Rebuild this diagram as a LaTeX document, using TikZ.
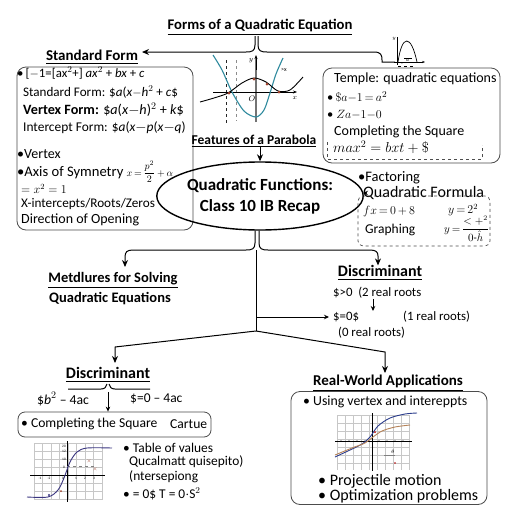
\documentclass[tikz,border=0pt]{standalone}
\usepackage{amsmath}
\usepackage{fontspec}
\setmainfont{Carlito}
\usetikzlibrary{arrows.meta,shapes.geometric,calc}
\definecolor{tealc}{HTML}{2F8A9E}
\definecolor{navyc}{HTML}{3A3580}
\definecolor{bluec}{HTML}{2B3C8C}
\definecolor{brownc}{HTML}{B5835A}
\definecolor{dotc}{HTML}{A0402A}
\begin{document}
\begin{tikzpicture}[x=1pt,y=-1pt,
  txt/.style={anchor=west,inner sep=0pt,font=\fontsize{14}{16}\selectfont},
  ltxt/.style={anchor=west,inner sep=0pt,font=\fontsize{13.4}{15}\selectfont},
  stxt/.style={anchor=west,inner sep=0pt,font=\fontsize{12.8}{15}\selectfont},
  btxt/.style={anchor=west,inner sep=0pt,font=\fontsize{15}{17}\selectfont},
  hd/.style={inner sep=0pt,font=\fontsize{14.7}{17}\selectfont\bfseries},
  rbox/.style={draw=black!70,line width=0.8pt,rounded corners=9pt},
  dbox/.style={draw=black!70,line width=0.7pt,dashed,rounded corners=5pt},
  link/.style={line width=1pt,black},
  arr/.style={link,-{Stealth[length=7pt,width=6pt]}},
  sarr/.style={link,-{Stealth[length=5pt,width=4.5pt]}},
  gridl/.style={black!22,line width=0.4pt},
  axis/.style={black,line width=0.8pt},
  tick/.style={inner sep=0pt,font=\fontsize{3.5}{4}\selectfont}]
\useasboundingbox (0,0) rectangle (512,512);
\fill[white] (0,0) rectangle (512,512);

% ---------- title and top brace ----------
\node[hd] (title) at (260,27) {\underline{Forms of a Quadratic Equation}};
\node[hd,font=\fontsize{15}{17}\selectfont\bfseries] (std) at (92,57) {\underline{Standard Form}};
\coordinate (stdtip) at (142,52);
\coordinate (bl) at (255,36);
\coordinate (br) at (258,36);
\coordinate (tg) at (395,62);
\draw[arr] (bl) -- (255,45) .. controls (255,51) and (252,52) .. (246,52) -- (stdtip);
\draw[link] (br) -- (258,45) .. controls (258,51) and (261,52) .. (267,52) -- (374,52)
   .. controls (381,52) and (382,55) .. (382,60) -- (382,62) -- (tg);

% small graph top right
\draw[line width=0.6pt] (397,37) -- (397,65);
\draw[line width=0.6pt,-{Stealth[length=3pt]}] (394,62) -- (425,62);
\draw[line width=0.7pt] (398,62) .. controls (402,34) and (411,34) .. (417,62);
\draw[line width=0.4pt,dashed] (398,66) -- (414,66);
\draw[line width=0.4pt] (404,58) -- (412,58);
\node[tick] (tgy) at (394,39) {$y$};
\node[tick] (tgt) at (406,63) {\_~~$\frac{a}{}$};

% ---------- center plot ----------
\draw[dashed,black!85,line width=0.6pt] (226,60) -- (226,124);
\draw[dashed,black!45,line width=0.6pt] (236,60) -- (236,121);
\draw[black!55,line width=1.2pt] (256,122) -- (256,58);
\draw[axis,-{Stealth[length=4pt,width=3pt]}] (256,70) -- (256,55);
\draw[axis,-{Stealth[length=4pt,width=3pt]}] (213,92) -- (297,92);
\draw[tealc,line width=1.1pt] plot[smooth] coordinates {(213,55) (222,70) (232,92) (244,111) (256,117) (264,110) (270,93) (276,74) (283,58)};
\draw[black,line width=0.9pt] plot[smooth] coordinates {(200,102) (214,98) (228,93) (242,83) (254,78) (266,82) (278,91) (290,90) (303,77)};
\foreach \p in {(229,93),(254,79),(267,84),(279,92)} \fill[dotc] \p circle (1.5);
\node[inner sep=0pt,font=\fontsize{7}{8}\selectfont] (ly) at (251,61) {$y$};
\node[inner sep=0pt,font=\fontsize{8}{9}\selectfont] (lo) at (252,99) {$O$};
\node[inner sep=0pt,font=\fontsize{7}{8}\selectfont] (lx) at (295,98) {$x$};
\node[inner sep=0pt,font=\fontsize{6}{7}\selectfont] (lx2) at (284,70) {>x};

% ---------- left box ----------
\node[rbox,minimum width=176pt,minimum height=163pt] (lbox) at (105,148.5) {};
\node[ltxt,font=\fontsize{12.8}{15}\selectfont] (l1) at (17,73) {\textbullet\,[$-$1=[ax$^2$+] \textit{ax}$^2$ + \textit{bx} + \textit{c}};
\node[ltxt,font=\fontsize{13.1}{15}\selectfont] (l2) at (23,92) {Standard Form: \$\textit{a}(\textit{x}$-$\textit{h}$^2$ + \textit{c}\$};
\node[ltxt,font=\fontsize{14.2}{16}\selectfont] (l3) at (23,110) {\textbf{Vertex Form:} \$\textit{a}(\textit{x}$-$\textit{h})$^2$ + \textit{k}\$};
\node[ltxt] (l4) at (23,128) {Intercept Form: \$\textit{a}(\textit{x}$-$\textit{p}(\textit{x}$-$\textit{q})};
\node[ltxt,font=\fontsize{14}{16}\selectfont] (l5) at (17,154) {\textbullet Vertex};
\node[ltxt,font=\fontsize{14.6}{17}\selectfont] (l6) at (17,172) {\textbullet Axis of Symnetry\ {\fontsize{10}{12}\selectfont$x\,{=}\,\dfrac{p^2}{2}\,{+}\,\alpha$}};
\node[ltxt,font=\fontsize{11.5}{13}\selectfont] (l7) at (21,189) {$=x^2=1$};
\node[ltxt,font=\fontsize{13.2}{15}\selectfont] (l8) at (21,204) {X-intercepts/Roots/Zeros};
\node[ltxt,font=\fontsize{14}{16}\selectfont] (l9) at (21,220) {Direction of Opening};

% ---------- right top box ----------
\node[rbox,minimum width=177pt,minimum height=95pt] (rbox) at (411.5,115.5) {};
\node[txt] (r1) at (334,79) {Temple: quadratic equations};
\node[txt,font=\fontsize{12.5}{14}\selectfont] (r2) at (327,97) {\textbullet\,$\mathit{\$}a{-}1{\,=\,}a^2$};
\node[txt,font=\fontsize{12.5}{14}\selectfont] (r3) at (327,115) {\textbullet\ $Za{-}1{-}0$};
\node[txt] (r4) at (334,132) {Completing the Square};
\node[txt] (r5) at (333,147) {$max^2=bxt+\$$};
\draw[dashed,black!70,line width=0.6pt] (327,142) -- (327,159) -- (482,159) -- (482,145);

% ---------- features and main ellipse ----------
\node[inner sep=0pt,font=\fontsize{13.5}{15}\selectfont\bfseries] (feat) at (254,141) {\underline{Features of a Parabola}};
\node[ellipse,draw,line width=1.4pt,minimum width=160pt,minimum height=68pt,inner sep=0pt,
      align=center,font=\fontsize{17}{21}\selectfont\bfseries] (main) at (260,196)
      {Quadratic Functions:\\Class 10 IB Recap};
\draw[arr] (feat.south -| main.north) -- (main.north);

% ---------- factoring / formula ----------
\node[txt,font=\fontsize{14.5}{16}\selectfont] (fact) at (358,178) {\textbullet Factoring};
\node[txt,font=\fontsize{16}{18}\selectfont] (qf) at (363,193) {Quadratic Formula};
\draw[sarr] (main.east |- qf.west) -- (qf.west);
\node[dbox,minimum width=132pt,minimum height=50pt] (qbox) at (424,221) {};
\node[stxt,font=\fontsize{12}{14}\selectfont] (q1) at (363,211) {$fx\,{=}\,0\,{+}\,8$};
\node[stxt,font=\fontsize{12}{14}\selectfont] (q2) at (448,210) {$y\,{=}\,2^2$};
\node[txt,font=\fontsize{13.5}{15}\selectfont] (q3) at (365,230) {Graphing};
\node[stxt,font=\fontsize{10.5}{12}\selectfont] (q4) at (444,229) {$y\,{=}\,\dfrac{<+^2}{0\text{-}\hat{h}}$};

% ---------- branches under ellipse ----------
\node[inner sep=0pt,font=\fontsize{14.5}{16}\selectfont\bfseries] (meth) at (113,280) {\underline{Metdlures for Solving}};
\node[inner sep=0pt,font=\fontsize{14.5}{16}\selectfont\bfseries] (qeq) at (110,299) {Quadratic Equations};
\node[inner sep=0pt,font=\fontsize{16}{18}\selectfont\bfseries] (disc1) at (380,273) {\underline{Discriminant}};
\coordinate (ml) at (125,267);
\draw[arr] ($(main.south)+(-5,0)$) -- (255,243) .. controls (255,249) and (252,250) .. (246,250)
   -- (133,250) .. controls (127,250) and (125,252) .. (125,257) -- (ml);
\draw[arr] ($(main.south)+(-1,0)$) -- (259,243) .. controls (259,249) and (262,250) .. (268,250)
   -- (370,250) .. controls (376,250) and (378,252) .. (378,256) -- (disc1.north -| 378,0);
\node[stxt] (d1) at (333,293) {\$>0\ \ (2 real roots};
\node[stxt] (d2) at (333,317) {\$=0\$};
\node[stxt] (d3) at (403,317) {(1 real roots)};
\node[stxt] (d4) at (338,333) {(0 real roots)};
\draw[sarr] (373,299) -- (373,311);
\coordinate (stemtop) at (256,250);
\coordinate (fork) at (256,331);
\draw[link] (stemtop) -- (fork);
\draw[sarr] (stemtop |- d2.west) -- ($(d2.west)+(-4,0)$);

% ---------- lower left ----------
\node[inner sep=0pt,font=\fontsize{16}{18}\selectfont\bfseries] (disc2) at (108,375) {\underline{Discriminant}};
\node[inner sep=0pt,font=\fontsize{15}{17}\selectfont\bfseries] (rw) at (388,383) {\underline{Real-World Applications}};
\draw[arr] (fork) -- (115,347) -- (115,363);
\draw[arr] (fork) -- (385,352) -- (385,373);
\draw[link] (68,389) -- (101,389) .. controls (105,389) and (106,387) .. (107,384);
\draw[link] (109,384) .. controls (110,387) and (111,389) .. (115,389) -- (150,389);
\node[txt,font=\fontsize{13.7}{15}\selectfont] (e1) at (37,399) {\$\textit{b}$^2$ -- 4ac};
\node[txt,font=\fontsize{13.5}{15}\selectfont] (e2) at (130,399) {\$=0 -- 4ac};
\node[rbox,minimum width=193pt,minimum height=25pt,rounded corners=7pt] (cbox) at (114.5,424.5) {};
\draw[sarr] (108,392) -- (cbox.north -| 108,0);
\node[btxt,font=\fontsize{13.6}{16}\selectfont] (c1) at (21,424) {\textbullet\ Completing the Square};
\node[btxt,font=\fontsize{13.6}{16}\selectfont] (c2) at (170,424) {Cartue};

% lower-left graph
\foreach \x in {34,42.5,51,59.5,68,76.5,85,93.5,102} \draw[gridl] (\x,443) -- (\x,500);
\foreach \y in {443,451,459,467,475,483,491,499} \draw[gridl] (34,\y) -- (102,\y);
\draw[axis] (67,441) -- (67,502);
\draw[axis] (30,475) -- (105,475);
\draw[black!50,dashed,line width=0.4pt] (67,466) -- (95,466);
\draw[navyc,line width=0.9pt] plot[smooth] coordinates {(27,497) (48,497) (58,490) (64,478) (70,462) (77,452) (87,448) (112,448)};
\fill[navyc] (49,495) circle (1.2);
\fill[dotc] (61,491) circle (1);
\node[tick,text=dotc] (m1) at (89,461) {$\times$};
\node[tick,text=dotc] (m2) at (95,469) {$\times$};
\foreach \t/\x in {-1/40,-2/49,1/76,2/85,3/94} \node[tick] (tk\x) at (\x,478) {\t};
\node[tick] (tk0) at (63,478) {0};
\foreach \t/\y in {20/446,12/451,10/459,0/467} \node[tick] (tv\y) at (64,\y) {\t};
\node[btxt,font=\fontsize{13.4}{15}\selectfont] (t1) at (123,448) {\textbullet\ Table of values};
\node[btxt,font=\fontsize{13.4}{15}\selectfont] (t2) at (129,462) {Qucalmatt quisepito)};
\node[btxt,font=\fontsize{13.4}{15}\selectfont] (t3) at (129,477) {(ntersepiong};
\node[btxt,font=\fontsize{13.4}{15}\selectfont] (t4) at (123,494) {\textbullet\ = 0\$ T = 0$\cdot$S$^2$};

% ---------- lower right ----------
\node[rbox,minimum width=196pt,minimum height=113pt] (abox) at (389,448) {};
\node[txt,font=\fontsize{13.8}{16}\selectfont] (a1) at (303,402) {\textbullet\ Using vertex and intereppts};
\foreach \x in {337,345,353,361,369,377,385,393,401,409} \draw[gridl] (\x,415) -- (\x,470);
\foreach \y in {415,423,431,439,447,455,463} \draw[gridl] (337,\y) -- (409,\y);
\draw[axis] (372,413) -- (372,471);
\draw[axis] (335,441) -- (412,441);
\foreach \x in {341,349,357,365,379,387,395,403} \fill (\x,441) circle (0.6);
\draw[bluec,line width=0.9pt] plot[smooth] coordinates {(335,457) (350,450) (362,444) (370,437) (378,426) (390,418) (405,414) (417,413)};
\draw[brownc,line width=0.9pt] plot[smooth] coordinates {(335,455) (352,448) (365,443) (373,437) (382,431) (395,427) (410,425)};
\fill[red!70!black] (375,432) circle (1);
\draw[black!50,line width=0.4pt] (384,455) -- (395,455);
\node[tick] (mm1) at (393,452) {$\theta$};
\fill[red!70!black] (395,463) circle (0.9);
\node[btxt,font=\fontsize{16}{18}\selectfont] (a2) at (318,481) {\textbullet\ Projectile motion};
\node[btxt,font=\fontsize{16}{18}\selectfont] (a3) at (318,496) {\textbullet\ Optimization problems};
\end{tikzpicture}
\end{document}
